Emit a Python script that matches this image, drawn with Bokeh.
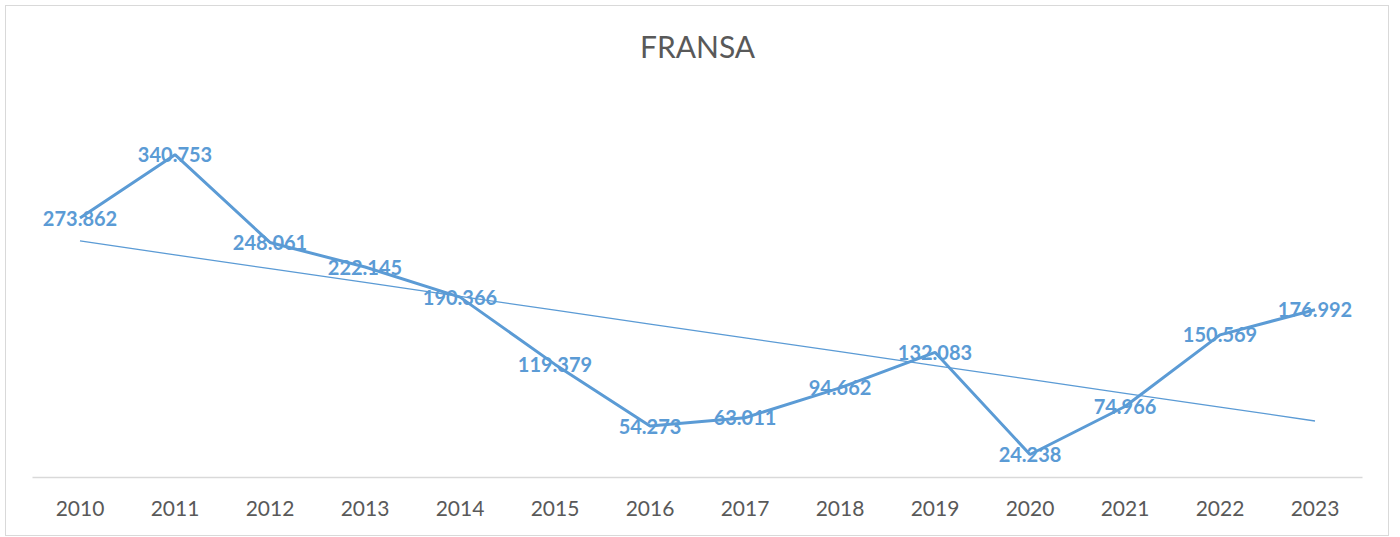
import numpy as np
from bokeh.plotting import figure
from bokeh.models import ColumnDataSource, Range1d, FactorRange, Label
from bokeh.core.properties import value
from bokeh.embed import file_html
from bokeh.resources import INLINE

years = ["2010", "2011", "2012", "2013", "2014", "2015", "2016", "2017",
         "2018", "2019", "2020", "2021", "2022", "2023"]
values = [273.862, 340.753, 248.061, 222.145, 190.366, 119.379, 54.273,
          63.011, 94.662, 132.083, 24.238, 74.966, 150.569, 176.992]
labels = ["273.862", "340.753", "248.061", "222.145", "190.366", "119.379",
          "54.273", "63.011", "94.662", "132.083", "24.238", "74.966",
          "150.569", "176.992"]
title_text = "FRANSA"

idx = np.arange(1, len(values) + 1)
slope, intercept = np.polyfit(idx, np.array(values), 1)
trend = list(intercept + slope * idx)

src = ColumnDataSource(dict(x=years, y=values, lab=labels, t=trend))

BLUE = "#5B9BD5"
GRAY = "#595959"

# 400 units span 379 px; the frame extends to the top of the chart box
FRAME_H = 471
Y_TOP = 400 * FRAME_H / 379

p = figure(x_range=FactorRange(*years), y_range=Range1d(0, Y_TOP),
           width=1382, height=529, output_backend="svg",
           toolbar_location=None)
p.margin = (5, 0, 0, 5)
p.frame_width = 1330
p.frame_height = FRAME_H
p.min_border_left = 26
p.min_border_right = 26
p.min_border_top = 0
p.min_border_bottom = 58

p.styles = {"border": "1px solid #D9D9D9"}
p.outline_line_color = None
p.background_fill_color = "white"
p.border_fill_color = "white"

p.xgrid.grid_line_color = None
p.ygrid.grid_line_color = None
p.yaxis.visible = False

p.xaxis.axis_line_color = "#D9D9D9"
p.xaxis.axis_line_width = 1.5
p.xaxis.major_tick_line_color = None
p.xaxis.minor_tick_line_color = None
p.xaxis.major_label_text_font = "Lato"
p.xaxis.major_label_text_font_size = "21px"
p.xaxis.major_label_text_color = GRAY
p.xaxis.major_label_standoff = 17

p.line("x", "t", source=src, line_color=BLUE, line_width=1.3)
p.line("x", "y", source=src, line_color=BLUE, line_width=3)
p.text("x", "y", text="lab", source=src, text_align="center",
       text_baseline="middle", text_color=BLUE,
       text_font=value("Lato"), text_font_style="bold",
       text_font_size="20px")

# chart title, centred over the frame (middle of the 14 categories)
title = Label(x=len(years) / 2, y=455, x_units="data", y_units="data",
              text=title_text, text_align="center", text_baseline="middle",
              text_font="Lato", text_font_size="30px", text_color=GRAY)
p.add_layout(title)

open("out.html", "w").write(file_html(p, INLINE))
